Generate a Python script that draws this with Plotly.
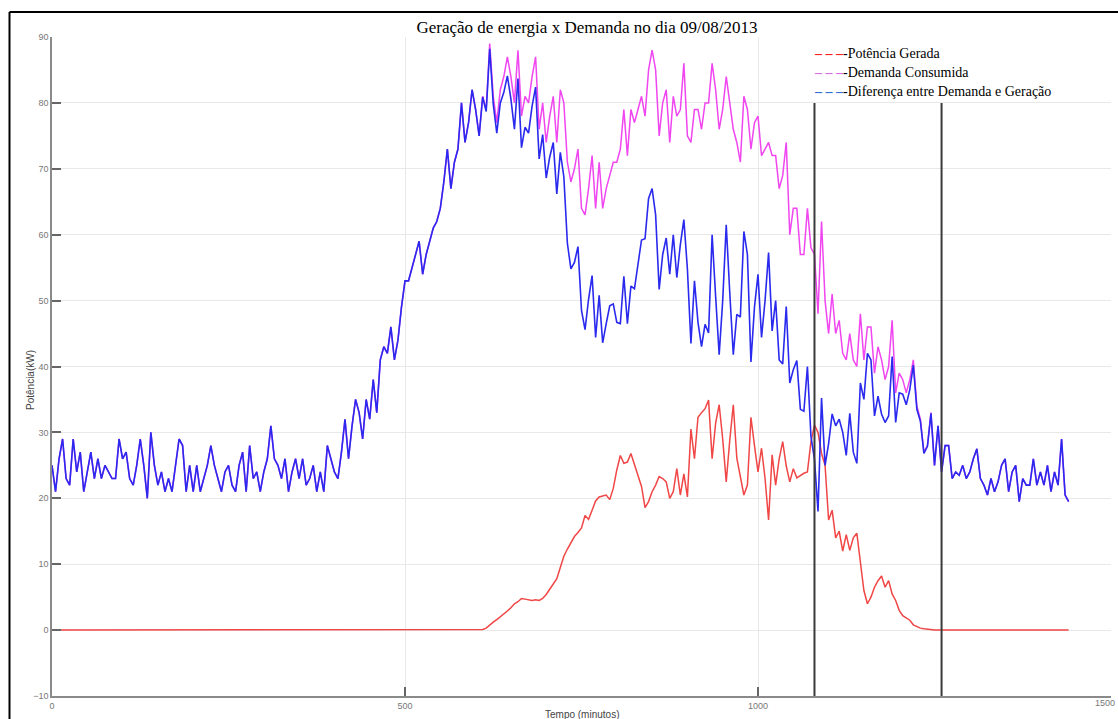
import numpy as np
import plotly.graph_objects as go

# ---------------- data (5-minute samples, 0..1440 min) ----------------
tempo = list(range(0, 1445, 5))

demanda = [
    25, 21, 26, 29, 23, 22, 29, 24, 27, 21, 24, 27,
    23, 26, 23, 25, 24, 23, 23, 29, 26, 27, 23, 22,
    25, 29, 25, 20, 30, 25, 22, 24, 21, 23, 21, 25,
    29, 28, 21, 25, 21, 25, 21, 23, 25, 28, 25, 23,
    21, 24, 25, 22, 21, 25, 27, 21, 28, 23, 24, 21,
    24, 26, 31, 26, 25, 23, 26, 21, 24, 26, 23, 26,
    22, 23, 25, 21, 24, 21, 28, 26, 24, 23, 27, 32,
    26, 31, 35, 33, 29, 35, 32, 38, 33, 41, 43, 42,
    46, 41, 44, 49, 53, 53, 55, 57, 59, 54, 57, 59,
    61, 62, 64, 68, 73, 67, 71, 73, 80, 74, 77, 82,
    79, 75, 81, 79, 89, 81, 77, 82, 84, 87, 84, 80,
    88, 78, 81, 80, 84, 87, 76, 80, 74, 78, 81, 74,
    82, 80, 71, 68, 70, 73, 64, 63, 67, 72, 64, 71,
    64, 67, 69, 71, 71, 73, 79, 72, 79, 77, 79, 81,
    78, 85, 88, 85, 75, 80, 82, 74, 81, 78, 79, 86,
    75, 74, 79, 79, 76, 80, 80, 86, 82, 76, 79, 84,
    80, 76, 74, 71, 81, 79, 73, 77, 78, 72, 73, 74,
    72, 72, 67, 69, 74, 60, 64, 64, 57, 57, 64, 58,
    57, 48, 62, 50, 45, 51, 45, 47, 42, 41, 45, 41,
    40, 48, 41, 46, 46, 39, 43, 41, 38, 40, 47, 36,
    39, 38, 36, 38, 41, 34, 32, 27, 28, 33, 25, 31,
    24, 28, 28, 23, 24, 23.5, 25, 23, 24, 26, 27.5, 23,
    22, 20.5, 23, 21, 22.5, 25, 26, 21, 24, 25, 19.5, 23,
    22, 22, 26, 22, 24, 22, 25, 21, 24, 22, 29, 20.5,
    19.5,
]

geracao = [
    0, 0, 0, 0, 0, 0, 0, 0, 0, 0, 0, 0,
    0, 0, 0, 0, 0, 0, 0, 0, 0, 0, 0, 0,
    0, 0, 0, 0, 0, 0, 0, 0, 0, 0, 0, 0,
    0, 0, 0, 0, 0, 0, 0, 0, 0, 0, 0, 0,
    0, 0, 0, 0, 0, 0, 0, 0, 0, 0, 0, 0,
    0, 0, 0, 0, 0, 0, 0, 0, 0, 0, 0, 0,
    0, 0, 0, 0, 0, 0, 0, 0, 0, 0, 0, 0,
    0, 0, 0, 0, 0, 0, 0, 0, 0, 0, 0, 0,
    0, 0, 0, 0, 0, 0, 0, 0, 0, 0, 0, 0,
    0, 0, 0, 0, 0, 0, 0, 0, 0, 0, 0, 0,
    0, 0, 0.1, 0.3, 0.8, 1.2, 1.6, 2.0, 2.4, 2.9, 3.4, 4.0,
    4.3, 4.8, 4.7, 4.6, 4.5, 4.6, 4.5, 4.8, 5.4, 6.2, 7.0, 7.8,
    9.5, 11.2, 12.3, 13.2, 14.2, 14.8, 15.5, 17.4, 16.8, 18.2, 19.6, 20.2,
    20.4, 20.5, 19.8, 21.5, 24.3, 26.5, 25.3, 25.5, 26.8, 25.2, 23.5, 21.8,
    18.6, 19.5, 21.0, 22.0, 23.3, 23.0, 22.5, 20.0, 21.0, 24.5, 20.5, 23.7,
    20.2, 30.5, 26.0, 32.3, 33.0, 33.6, 34.9, 26.0, 31.4, 34.2, 29.0, 22.5,
    28.8, 34.2, 26.1, 23.5, 20.5, 22.0, 32.3, 28.0, 24.0, 27.6, 23.0, 16.7,
    26.6, 22.0, 26.0, 28.6, 24.9, 22.5, 24.5, 23.1, 23.5, 23.8, 24.0, 28.6,
    31.1, 30.0, 26.8, 25.0, 16.7, 18.2, 14.0, 15.0, 12.0, 14.5, 12.1, 14.0,
    14.7, 10.5, 6.0, 4.0, 5.0, 6.5, 7.5, 8.2, 6.5, 7.5, 5.5, 4.5,
    3.0, 2.2, 1.8, 1.5, 0.8, 0.5, 0.3, 0.2, 0.1, 0.1, 0, 0,
    0, 0, 0, 0, 0, 0, 0, 0, 0, 0, 0, 0,
    0, 0, 0, 0, 0, 0, 0, 0, 0, 0, 0, 0,
    0, 0, 0, 0, 0, 0, 0, 0, 0, 0, 0, 0,
    0,
]

# difference between demand and generation (by definition of the series)
diferenca = (np.array(demanda, dtype=float) - np.array(geracao, dtype=float)).tolist()

# peak-hour markers (minutes)
horario_ponta = [1080, 1260]

titulo = "Geração de energia x Demanda no dia 09/08/2013"
nomes = ["Potência Gerada", "Demanda Consumida", "Diferença entre Demanda e Geração"]
x_ticks = [0, 500, 1000, 1500]
y_ticks = list(range(-10, 91, 10))

# ---------------- figure ----------------
W, H = 1118, 719
L, R, T, B = 52, 7, 37, 23
pw, ph = W - L - R, H - T - B


def px(xp):
    return (xp - L) / pw


def py(yp):
    return (H - B - yp) / ph


fig = go.Figure()
fig.add_trace(go.Scatter(x=tempo, y=geracao, mode="lines", name=nomes[0],
                         line=dict(color="#f04646", width=1.5), showlegend=False))
fig.add_trace(go.Scatter(x=tempo, y=demanda, mode="lines", name=nomes[1],
                         line=dict(color="#f046f0", width=1.5), showlegend=False))
fig.add_trace(go.Scatter(x=tempo, y=diferenca, mode="lines", name=nomes[2],
                         line=dict(color="#2a2aee", width=1.6), showlegend=False))

for xv in horario_ponta:
    fig.add_shape(type="line", xref="x", yref="y", x0=xv, x1=xv, y0=-10, y1=80,
                  line=dict(color="#3a3a3a", width=2))

# frame of the document image
fig.add_shape(type="line", xref="paper", yref="paper", x0=px(9.5), x1=px(9.5),
              y0=py(12), y1=py(725), line=dict(color="black", width=2))
fig.add_shape(type="line", xref="paper", yref="paper", x0=px(9.5), x1=px(1125),
              y0=py(12), y1=py(12), line=dict(color="black", width=2))

# legend drawn as text with coloured dash samples
leg_cols = ["#ff2020", "#d86ee6", "#2f6fd6"]
leg_y = [54, 72, 91]
for nome, c, yy in zip(nomes, leg_cols, leg_y):
    fig.add_annotation(xref="paper", yref="paper", x=px(812), y=py(yy),
                       xanchor="left", yanchor="middle", showarrow=False,
                       text=f"<span style='color:{c}'><b>– – –</b></span>-{nome}",
                       font=dict(family="Liberation Serif", size=14, color="black"))

# axis titles
fig.add_annotation(xref="paper", yref="paper", x=px(582), y=py(714),
                   xanchor="center", yanchor="middle", showarrow=False,
                   text="Tempo (minutos)",
                   font=dict(family="Liberation Sans", size=10, color="#444"))
fig.add_annotation(xref="paper", yref="paper", x=px(30), y=py(380),
                   xanchor="center", yanchor="middle", showarrow=False, textangle=-90,
                   text="Potência(kW)",
                   font=dict(family="Liberation Sans", size=10, color="#444"))
# last x tick label (sits at the right edge of the picture)
fig.add_annotation(xref="paper", yref="paper", x=px(1117), y=py(703),
                   xanchor="right", yanchor="middle", showarrow=False,
                   text=str(x_ticks[-1]),
                   font=dict(family="Liberation Sans", size=9, color="#777"))

axis_common = dict(showgrid=True, gridcolor="#e8e8e8", gridwidth=1, zeroline=False,
                   showline=True, linecolor="#8a8a8a", linewidth=1.5,
                   ticks="inside", ticklen=9, tickwidth=1.5, tickcolor="#666",
                   tickfont=dict(family="Liberation Sans", size=9, color="#777"))

fig.update_layout(
    width=W, height=H,
    margin=dict(l=L, r=R, t=T, b=B, autoexpand=False),
    paper_bgcolor="white", plot_bgcolor="white",
    title=dict(text=titulo, x=587 / W, xanchor="center", y=1 - 27 / H, yanchor="middle",
               font=dict(family="Liberation Serif", size=17, color="black")),
    xaxis=dict(range=[0, 1500], tickvals=x_ticks, **axis_common),
    yaxis=dict(range=[-10, 90], tickvals=y_ticks, **axis_common),
    showlegend=False,
)

fig.write_html("out.html")
